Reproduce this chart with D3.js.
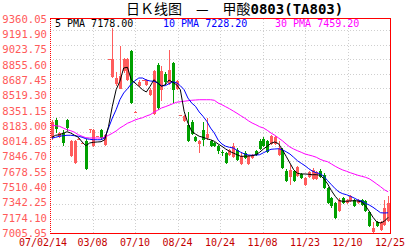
<!DOCTYPE html>
<html>
<head>
<meta charset="utf-8">
<script src="https://cdn.jsdelivr.net/npm/d3@7"></script>
<style>
  body { margin: 0; background: #fff; }
  svg { display: block; }
  text { font-family: "DejaVu Sans Mono", monospace; }
</style>
</head>
<body>
<script>
// daily candles, one per trading day
var opens = [8051, 8249, 8062, 8106, 8249, 7853, 7776, 8040, 7996, 8018,
             8150, 7963, 8066, 8139, 7974, 8912, 8722, 8645, 8590, 8788,
             8689, 9008, 8337, 8623, 8680, 8634, 8524, 8315, 8854, 8579,
             8755, 8645, 8876, 8590, 8302, 8238, 8194, 8227, 8062, 7985,
             8139, 8051, 8018, 7996, 7963, 7897, 7886, 7864, 7842, 7919,
             7765, 7886, 7765, 7831, 7908, 8018, 8040, 8018, 7985, 7985,
             7864, 7919, 7688, 7622, 7688, 7633, 7655, 7534, 7622, 7600,
             7600, 7688, 7644, 7501, 7391, 7336, 7248, 7391, 7336, 7358,
             7369, 7336, 7369, 7358, 7237, 7017, 7127, 7039, 7094, 7138];
var highs = [8249, 8271, 8117, 8139, 8260, 8029, 8029, 8047, 8002, 8040,
             8154, 8150, 8073, 8150, 8095, 8920, 9261, 8777, 9063, 8931,
             8931, 9019, 8344, 8689, 8686, 8700, 8601, 8799, 8876, 8843,
             8777, 9019, 8887, 8689, 8308, 8304, 8337, 8249, 8073, 8029,
             8227, 8271, 8029, 8007, 7974, 7919, 7897, 7930, 7996, 7941,
             7897, 7908, 7864, 7875, 7919, 8040, 8062, 8029, 8084, 8073,
             8018, 7941, 7710, 7754, 7699, 7743, 7666, 7622, 7688, 7721,
             7688, 7710, 7666, 7512, 7402, 7347, 7391, 7402, 7380, 7424,
             7380, 7380, 7380, 7369, 7248, 7127, 7138, 7138, 7369, 7413];
var lows = [8029, 8106, 8051, 7963, 8128, 7842, 7765, 8036, 7994, 7699,
            8106, 7952, 8062, 8040, 7963, 8910, 8711, 8623, 8590, 8766,
            8678, 8425, 8335, 8612, 8678, 8623, 8513, 8304, 8359, 8458,
            8634, 8634, 8436, 8579, 8300, 8227, 8007, 8084, 8007, 7886,
            7963, 8029, 7952, 7952, 7875, 7853, 7765, 7853, 7831, 7798,
            7754, 7820, 7754, 7820, 7853, 7919, 7952, 7886, 7974, 7974,
            7853, 7710, 7567, 7534, 7567, 7622, 7600, 7523, 7611, 7589,
            7589, 7611, 7490, 7325, 7281, 7160, 7237, 7325, 7325, 7347,
            7292, 7325, 7303, 7237, 7072, 7006, 7072, 7028, 7083, 7127];
var closes = [8227, 8150, 8106, 7996, 8161, 8018, 8018, 8045, 8000, 7710,
              8154, 8139, 8071, 8046, 8084, 8916, 8920, 8711, 8733, 8920,
              8920, 8436, 8341, 8667, 8684, 8689, 8579, 8788, 8381, 8788,
              8667, 8799, 8579, 8678, 8306, 8293, 8018, 8095, 8018, 8018,
              8029, 8095, 7963, 7963, 7908, 7881, 7776, 7919, 7963, 7809,
              7853, 7831, 7853, 7864, 7864, 7930, 7963, 7897, 8073, 8062,
              7941, 7721, 7578, 7699, 7578, 7732, 7611, 7611, 7677, 7699,
              7677, 7622, 7501, 7336, 7303, 7171, 7369, 7336, 7369, 7413,
              7303, 7369, 7314, 7248, 7083, 7061, 7083, 7127, 7281, 7336];

// moving averages as printed on the chart
var ma5 = [8059, 8081, 8087, 8103, 8120, 8106, 8081, 8059, 8007, 7966,
           7996, 8004, 8007, 8010, 8032, 8180, 8400, 8582, 8675, 8821,
           8829, 8692, 8656, 8620, 8582, 8557, 8620, 8692, 8656, 8620,
           8637, 8689, 8664, 8637, 8582, 8345, 8216, 8125, 8095, 8070,
           8059, 8043, 8032, 8015, 7985, 7960, 7930, 7905, 7886, 7867,
           7850, 7850, 7853, 7856, 7867, 7894, 7930, 7960, 7993, 8007,
           7988, 7922, 7850, 7776, 7702, 7663, 7655, 7655, 7652, 7647,
           7647, 7641, 7603, 7545, 7471, 7410, 7361, 7355, 7355, 7358,
           7361, 7358, 7347, 7306, 7245, 7179, 7127, 7116, 7135, 7178];
var ma10 = [8048, 8059, 8070, 8076, 8081, 8081, 8076, 8070, 8059, 8043,
            8037, 8032, 8032, 8032, 8051, 8161, 8271, 8362, 8472, 8546,
            8593, 8645, 8681, 8711, 8711, 8689, 8678, 8675, 8656, 8626,
            8626, 8648, 8670, 8659, 8626, 8582, 8491, 8436, 8400, 8337,
            8290, 8235, 8161, 8106, 8029, 7985, 7960, 7949, 7941, 7916,
            7894, 7875, 7864, 7861, 7864, 7867, 7889, 7908, 7927, 7930,
            7933, 7922, 7900, 7875, 7839, 7801, 7773, 7746, 7713, 7685,
            7669, 7658, 7630, 7581, 7537, 7493, 7457, 7438, 7427, 7410,
            7391, 7369, 7358, 7333, 7314, 7289, 7259, 7229, 7226, 7228.2];
var ma30 = [8191, 8186, 8180, 8161, 8142, 8131, 8114, 8087, 8070, 8054,
            8051, 8051, 8051, 8051, 8059, 8081, 8103, 8128, 8161, 8186,
            8213, 8230, 8249, 8263, 8274, 8293, 8307, 8334, 8356, 8381,
            8395, 8411, 8428, 8444, 8450, 8455, 8461, 8466, 8469, 8472,
            8472, 8472, 8472, 8466, 8436, 8417, 8395, 8373, 8348, 8323,
            8296, 8271, 8241, 8216, 8197, 8175, 8161, 8136, 8106, 8081,
            8051, 8021, 7985, 7952, 7930, 7911, 7894, 7875, 7864, 7853,
            7839, 7817, 7801, 7790, 7765, 7740, 7718, 7699, 7685, 7669,
            7655, 7641, 7630, 7619, 7603, 7575, 7545, 7515, 7482, 7459.2];

var yTickLabels = ["9360.05", "9191.90", "9023.75", "8855.60", "8687.45",
                   "8519.30", "8351.15", "8183.00", "8014.85", "7846.70",
                   "7678.55", "7510.40", "7342.25", "7174.10", "7005.95"];
var xTickLabels = ["07/02/14", "03/08", "07/10", "08/24", "10/24",
                   "11/08", "11/23", "12/10", "12/25"];
var maNames = ["5 PMA", "10 PMA", "30 PMA"];
var maColors = ["#000000", "#0000ff", "#ff00ff"];

var W = 407, H = 250;
var margin = {left: 50, right: 17, top: 19, bottom: 17};
var x0 = margin.left, x1 = W - margin.right, y0 = margin.top, y1 = H - margin.bottom;

var N = closes.length;
var x = d3.scaleLinear().domain([0, N]).range([x0, x1]);
var y = d3.scaleLinear()
    .domain([+yTickLabels[yTickLabels.length - 1], +yTickLabels[0]])
    .range([y1, y0]);

var svg = d3.select("body").append("svg")
    .attr("width", W)
    .attr("height", H);

// grid (dotted, light grey)
var grid = svg.append("g")
    .attr("stroke", "#cfcfcf")
    .attr("stroke-dasharray", "1,2")
    .attr("shape-rendering", "crispEdges");
d3.range(1, 15).forEach(function(k) {
  var gy = Math.round(y1 - k * 14.5) + 0.5;
  grid.append("line").attr("x1", x0).attr("x2", x1).attr("y1", gy).attr("y2", gy);
});
d3.range(1, xTickLabels.length - 1).forEach(function(k) {
  var gx = Math.round(x(k * N / (xTickLabels.length - 1))) + 0.5;
  grid.append("line").attr("x1", gx).attr("x2", gx).attr("y1", y0).attr("y2", y1);
});

// candles
var idx = d3.range(N);
var up = function(i) { return closes[i] >= opens[i]; };
var colour = function(i) { return up(i) ? "#ff5c5c" : "#00a000"; };
var cg = svg.append("g").attr("shape-rendering", "crispEdges");

cg.selectAll("rect.wick")
  .data(idx)
  .enter().append("rect")
    .attr("class", "wick")
    .attr("x", function(i) { return Math.round(x(i + 0.5)); })
    .attr("width", 1)
    .attr("y", function(i) { return Math.round(y(highs[i])); })
    .attr("height", function(i) { return Math.max(1, Math.round(y(lows[i])) - Math.round(y(highs[i]))); })
    .attr("fill", colour);

cg.selectAll("rect.body")
  .data(idx)
  .enter().append("rect")
    .attr("class", "body")
    .attr("x", function(i) { return Math.round(x(i + 0.5)) - 1; })
    .attr("width", 3)
    .attr("y", function(i) { return Math.round(y(Math.max(opens[i], closes[i]))); })
    .attr("height", function(i) {
      return Math.max(1, Math.round(y(Math.min(opens[i], closes[i]))) - Math.round(y(Math.max(opens[i], closes[i]))));
    })
    .attr("fill", colour);

// moving average lines
var maLine = d3.line()
    .x(function(d, i) { return x(i + 0.5); })
    .y(function(d) { return y(d); });

[ma30, ma10, ma5].forEach(function(s, k) {
  svg.append("path")
    .datum(s)
    .attr("fill", "none")
    .attr("stroke", maColors[2 - k])
    .attr("stroke-width", 1)
    .attr("d", maLine);
});

// frame: dotted left, solid red elsewhere
var frame = svg.append("g").attr("stroke", "#ff0000").attr("shape-rendering", "crispEdges");
frame.append("line").attr("x1", x0 + 0.5).attr("x2", x0 + 0.5).attr("y1", y0).attr("y2", y1)
    .attr("stroke-dasharray", "1,1");
frame.append("line").attr("x1", x0).attr("x2", x1 + 1).attr("y1", y0 - 0.5).attr("y2", y0 - 0.5);
frame.append("line").attr("x1", x1 + 0.5).attr("x2", x1 + 0.5).attr("y1", y0 - 1).attr("y2", y1 + 1);
frame.append("line").attr("x1", x0).attr("x2", x1 + 1).attr("y1", y1 + 0.5).attr("y2", y1 + 0.5);

// y axis labels
svg.append("g").selectAll("text")
  .data(yTickLabels)
  .enter().append("text")
    .attr("x", x0 - 3)
    .attr("y", function(d) { return y(+d); })
    .attr("dy", "0.36em")
    .attr("text-anchor", "end")
    .attr("font-size", "10.6px")
    .attr("fill", "#ff5a5a")
    .text(function(d) { return d; });

// x axis labels
svg.append("g").selectAll("text")
  .data(xTickLabels)
  .enter().append("text")
    .attr("x", function(d, k) { return x(k * N / (xTickLabels.length - 1)) + (k === 0 ? -7 : 0); })
    .attr("y", 245.5)
    .attr("text-anchor", "middle")
    .attr("font-size", "10px")
    .attr("fill", "#c40000")
    .text(function(d) { return d; });

// legend row inside the plot
var lastVals = [ma5[N - 1], ma10[N - 1], ma30[N - 1]];
var legX = [55, 163, 275];
svg.append("g").selectAll("text")
  .data(maNames)
  .enter().append("text")
    .attr("x", function(d, k) { return legX[k]; })
    .attr("y", 27)
    .attr("font-size", "10px")
    .attr("fill", function(d, k) { return maColors[k]; })
    .text(function(d, k) { return d + " " + lastVals[k].toFixed(2); });

// title
var title = svg.append("text")
    .attr("x", 126)
    .attr("y", 14)
    .attr("font-size", "14px")
    .attr("fill", "#000");
title.append("tspan")
    .style("font-family", "'Noto Sans CJK SC', sans-serif")
    .text("日Ｋ线图　—　甲酸");
title.append("tspan")
    .style("font-weight", "bold")
    .text("0803(TA803)");
</script>
</body>
</html>
